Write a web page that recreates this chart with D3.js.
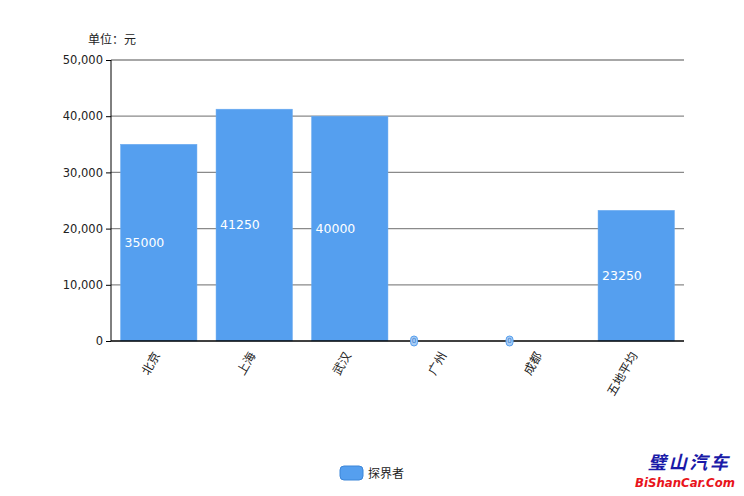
<!DOCTYPE html>
<html><head><meta charset="utf-8">
<script src="https://cdn.jsdelivr.net/npm/d3@7/dist/d3.min.js"></script>
<style>
body{margin:0;background:#fff;}
text{font-family:"DejaVu Sans","Noto Sans CJK SC",sans-serif;}
</style></head>
<body>
<svg id="chart" width="744" height="496"></svg>
<script>
const categories = ["北京","上海","武汉","广州","成都","五地平均"];
const values = [35000, 41250, 40000, 0, 0, 23250];
const yTicks = [0, 10000, 20000, 30000, 40000, 50000];
const seriesName = "探界者";
const unitLabel = "单位：元";

const svg = d3.select("#chart");
const m = {left:111, right:684, top:60, bottom:341};
const x = d3.scaleBand().domain(categories).range([m.left, m.right]).paddingInner(0.2).paddingOuter(0.1);
const y = d3.scaleLinear().domain([0, 50000]).range([m.bottom, m.top]);
const blue = "#559FEF";

// gridlines
svg.append("g").selectAll("line").data(yTicks.filter(d=>d>0)).join("line")
  .attr("x1", m.left).attr("x2", m.right)
  .attr("y1", d=>y(d)).attr("y2", d=>y(d))
  .attr("stroke", "#8a8a8a").attr("stroke-width", 1.3);

// bars
svg.append("g").selectAll("rect").data(values).join("rect")
  .attr("x", (d,i)=>x(categories[i])).attr("width", x.bandwidth())
  .attr("y", d=>y(d)).attr("height", d=>y(0)-y(d))
  .attr("fill", blue).attr("stroke", "#6aaaf0").attr("stroke-width", 0.5);

// y axis
const yAxis = svg.append("g").attr("transform", `translate(${m.left},0)`)
  .call(d3.axisLeft(y).tickValues(yTicks).tickFormat(d3.format(",")).tickSize(5).tickPadding(3));
yAxis.select(".domain").attr("stroke", "#000").attr("d", `M0,${m.top}V${m.bottom}`);
yAxis.selectAll(".tick line").attr("stroke", "#000");
yAxis.selectAll("text").attr("font-size", "11.5px").attr("fill", "#222")
  .attr("font-family", "DejaVu Sans");

// x axis
const xAxis = svg.append("g").attr("transform", `translate(0,${m.bottom})`)
  .call(d3.axisBottom(x).tickSize(0).tickPadding(0));
xAxis.select(".domain").attr("stroke", "#000").attr("stroke-width", 1.3).attr("d", `M${m.left},0H${m.right}`);
xAxis.selectAll("text").attr("font-size", "12px").attr("fill", "#222")
  .attr("text-anchor", "end").attr("dy", "0.35em")
  .attr("transform", "translate(-2,12) rotate(-60)");

// value labels
const lab = svg.append("g");
values.forEach((v,i)=>{
  const bx = x(categories[i]);
  if (v > 0) {
    lab.append("text").attr("x", bx+4).attr("y", (y(v)+y(0))/2)
      .attr("dy","0.35em").attr("fill","#fff").attr("font-size","12.5px").text(v);
  } else {
    lab.append("rect").attr("x", bx+3.5).attr("y", y(0)-5).attr("width", 7).attr("height", 10)
      .attr("rx", 3.5).attr("fill", "#a9cdf5").attr("stroke", blue).attr("stroke-width", 1);
    lab.append("text").attr("x", bx+7).attr("y", y(0)).attr("dy","0.35em")
      .attr("text-anchor","middle").attr("fill","#3a7fd0").attr("font-size","7px").text(v);
  }
});

// unit
svg.append("text").attr("x", 88).attr("y", 44).attr("font-size", "12px").attr("fill", "#222").text(unitLabel);

// legend
svg.append("rect").attr("x", 340).attr("y", 466).attr("width", 23).attr("height", 14).attr("rx", 4)
  .attr("fill", blue).attr("stroke", "#3d86d8").attr("stroke-width", 1);
svg.append("text").attr("x", 368).attr("y", 478).attr("font-size", "12px").attr("fill", "#222").text(seriesName);

// watermark
svg.append("text").attr("x", 648).attr("y", 469).attr("font-size", "18px").attr("font-weight","bold")
  .attr("font-style","italic").attr("fill", "#1a1aa8")
  .attr("textLength", 80).attr("lengthAdjust", "spacing").text("璧山汽车");
svg.append("text").attr("x", 635).attr("y", 487).attr("font-size", "12px").attr("font-weight","bold")
  .attr("font-style","italic").attr("fill", "#e8141c")
  .attr("textLength", 100).attr("lengthAdjust", "spacingAndGlyphs").text("BiShanCar.Com");
</script>
</body></html>
